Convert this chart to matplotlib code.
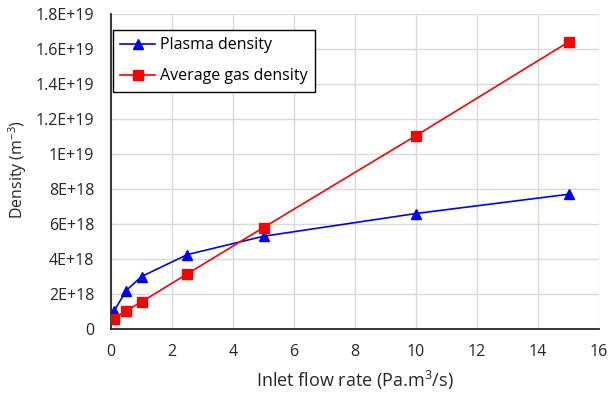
import matplotlib
matplotlib.use("Agg")
import matplotlib.pyplot as plt

flow = [0.1, 0.5, 1, 2.5, 5, 10, 15]
plasma = [1.03e18, 2.2e18, 3.0e18, 4.25e18, 5.3e18, 6.6e18, 7.7e18]
gas = [0.6e18, 1.05e18, 1.55e18, 3.15e18, 5.8e18, 1.105e19, 1.64e19]
yticks = [0, 2e18, 4e18, 6e18, 8e18, 1e19, 1.2e19, 1.4e19, 1.6e19, 1.8e19]
ylabels = ["0", "2E+18", "4E+18", "6E+18", "8E+18", "1E+19", "1.2E+19", "1.4E+19", "1.6E+19", "1.8E+19"]
xticks = [0, 2, 4, 6, 8, 10, 12, 14, 16]

plt.rcParams['font.family'] = ['Open Sans', 'DejaVu Sans']
plt.rcParams['mathtext.fontset'] = 'custom'
plt.rcParams['mathtext.rm'] = 'Open Sans'
plt.rcParams['mathtext.it'] = 'Open Sans'
plt.rcParams['mathtext.bf'] = 'Open Sans'

txt = '#262626'
fig = plt.figure(figsize=(6.12, 3.96), dpi=100)
ax = fig.add_axes([111/612, 1 - 329/396, (599-111)/612, (329-14)/396])

ax.plot(flow, plasma, color='#0000ff', marker='^', markersize=6.5, lw=1.2, label='Plasma density', zorder=3)
ax.plot(flow, gas, color='#ff0000', marker='s', markersize=6.5, lw=1.2, label='Average gas density', zorder=3)

ax.set_xlim(0, 16)
ax.set_ylim(0, 1.8e19)
ax.set_xticks(xticks)
ax.set_xticklabels([str(t) for t in xticks])
ax.set_yticks(yticks)
ax.set_yticklabels(ylabels)
ax.tick_params(axis='y', length=0, labelsize=11.5, colors=txt, pad=12)
ax.tick_params(axis='x', length=0, labelsize=11.5, colors=txt, pad=11)
ax.grid(True, color='#d9d9d9', lw=1)
ax.set_axisbelow(True)
for s in ['top', 'right']:
    ax.spines[s].set_visible(False)
for s in ['left', 'bottom']:
    ax.spines[s].set_color('#262626')
    ax.spines[s].set_linewidth(1.3)

ax.set_xlabel('Inlet flow rate (Pa.m$^{3}$/s)', fontsize=13, color=txt)
ax.set_ylabel('Density (m$^{-3}$)', fontsize=11.5, color=txt)
ax.xaxis.set_label_coords(0.5, -0.127)
ax.yaxis.set_label_coords(-0.168, 0.5 + 2/315)

leg = ax.legend(loc='upper left', bbox_to_anchor=(0.004, 0.949), borderaxespad=0, fontsize=11.5,
                frameon=True, fancybox=False, edgecolor='black', framealpha=1,
                borderpad=0.45, labelspacing=0.95, handlelength=2.2, handletextpad=0.3)
leg.get_frame().set_linewidth(1.0)
for t in leg.get_texts():
    t.set_color('black')

fig.savefig('out.png', dpi=100)
